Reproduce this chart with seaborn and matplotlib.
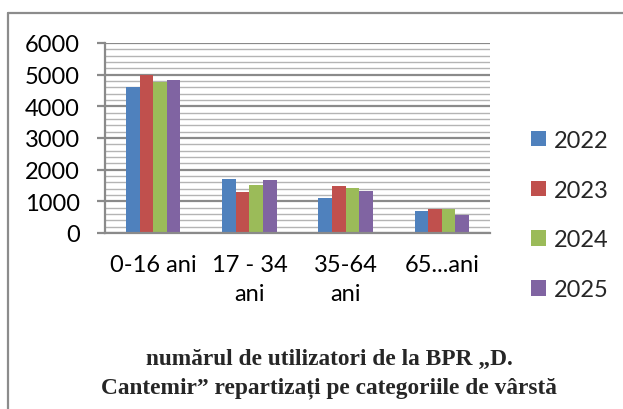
import matplotlib
matplotlib.use("Agg")
import matplotlib.pyplot as plt
import seaborn as sns
import pandas as pd
from matplotlib.lines import Line2D
from matplotlib.ticker import MultipleLocator
from matplotlib.patches import Patch

categories = ["0-16 ani", "17 - 34\nani", "35-64\nani", "65...ani"]
years = ["2022", "2023", "2024", "2025"]
v2022 = [4610, 1705, 1095, 695]
v2023 = [5000, 1305, 1495, 760]
v2024 = [4760, 1530, 1430, 750]
v2025 = [4830, 1675, 1325, 570]
colors = ["#4F81BD", "#C0504D", "#9BBB59", "#8064A2"]
title = "numărul de utilizatori de la BPR „D.\nCantemir” repartizați pe categoriile de vârstă"

rows = []
for y, vals in zip(years, [v2022, v2023, v2024, v2025]):
    for c, v in zip(categories, vals):
        rows.append({"cat": c, "year": y, "val": v})
df = pd.DataFrame(rows)

sns.set_theme(style="white")
plt.rcParams["font.family"] = ["Lato", "DejaVu Sans"]

FS = 17

fig = plt.figure(figsize=(6.23, 4.10), dpi=100)
ax = fig.add_axes([105/623, 1-234/410, 385/623, 190/410])

sns.barplot(data=df, x="cat", y="val", hue="year", order=categories,
            hue_order=years, palette=colors, width=0.565, gap=0,
            saturation=1, ax=ax, legend=False, linewidth=0)

ax.set_ylim(0, 6000)
ax.set_xlim(-0.5, 3.5)
ax.yaxis.set_major_locator(MultipleLocator(1000))
ax.yaxis.set_minor_locator(MultipleLocator(200))
ax.grid(which="minor", axis="y", color="#b4b4b4", linewidth=1.0)
ax.grid(which="major", axis="y", color="#8a8a8a", linewidth=1.6)
ax.set_axisbelow(True)
for s in ["top", "right"]:
    ax.spines[s].set_visible(False)
ax.spines["left"].set_color("#8a8a8a")
ax.spines["left"].set_linewidth(1.6)
ax.spines["bottom"].set_color("#8a8a8a")
ax.spines["bottom"].set_linewidth(1.6)
ax.tick_params(axis="y", which="major", left=True, length=6, width=1.6,
               color="#8a8a8a", labelsize=FS, pad=12, labelcolor="black")
ax.tick_params(axis="y", which="minor", left=False)
ax.tick_params(axis="x", bottom=False, labelsize=FS, pad=9, labelcolor="black")
ax.set_xlabel("")
ax.set_ylabel("")
for lab in ax.get_xticklabels():
    lab.set_linespacing(1.5)

handles = [Patch(facecolor=c, edgecolor="none") for c in colors]
fig.legend(handles, years, loc="center left", bbox_to_anchor=(531/623, 1-216/410),
           frameon=False, fontsize=FS, handlelength=0.62, handleheight=0.62,
           handletextpad=0.35, labelspacing=1.22, borderpad=0, borderaxespad=0)

fig.text(329/623, 1-374/410, title, ha="center", va="center",
         family="Liberation Serif", fontweight="bold", fontsize=16.8,
         linespacing=1.45)

fig.add_artist(Line2D([8/623, 8/623], [0, 1-14/410], transform=fig.transFigure,
                      color="#8c8c8c", linewidth=1.6))
fig.add_artist(Line2D([8/623, 1], [1-14/410, 1-14/410], transform=fig.transFigure,
                      color="#8c8c8c", linewidth=1.6))

fig.savefig("out.png", dpi=100)
